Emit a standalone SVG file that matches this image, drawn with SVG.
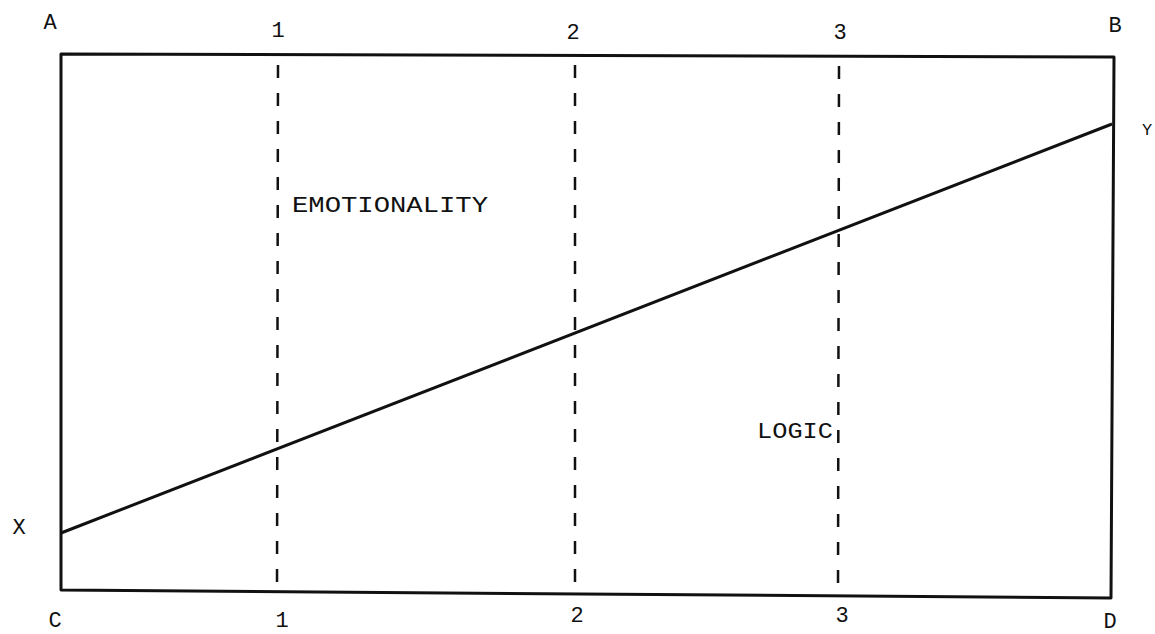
<svg xmlns="http://www.w3.org/2000/svg" width="1155" height="634" viewBox="0 0 1155 634">
<style>
.t{font-family:"Liberation Mono","DejaVu Sans Mono",monospace;font-size:22px;fill:#111;text-anchor:middle}
.frame{fill:none;stroke:#111;stroke-width:3;stroke-linejoin:round}
.dash{stroke:#111;stroke-width:2.5;stroke-dasharray:13 15}
.diag{stroke:#111;stroke-width:3;fill:none}
</style>
<rect width="1155" height="634" fill="#fff"/>
<g id="frame">
<polygon class="frame" points="61,54 1114,57 1111,598 61,590"/>
</g>
<g id="connectors">
<line class="dash" x1="278" y1="65" x2="277" y2="588"/>
<line class="dash" x1="575" y1="65" x2="575" y2="590"/>
<line class="dash" x1="839" y1="66" x2="838" y2="594"/>
<line class="diag" x1="61" y1="533" x2="1112" y2="124"/>
</g>
<g id="corner-labels">
<text class="t" x="50" y="29">A</text>
<text class="t" x="1115" y="32">B</text>
<text class="t" x="55" y="627">C</text>
<text class="t" x="1110" y="628">D</text>
<text class="t" x="19" y="534">X</text>
<text class="t" x="1147" y="135" style="font-size:17px">Y</text>
</g>
<g id="top-ticks">
<text class="t" x="278" y="37">1</text>
<text class="t" x="573" y="39">2</text>
<text class="t" x="840" y="39">3</text>
</g>
<g id="bottom-ticks">
<text class="t" x="282" y="627">1</text>
<text class="t" x="577" y="622">2</text>
<text class="t" x="842" y="622">3</text>
</g>
<g id="emotionality">
<text class="t" x="390" y="212" textLength="196" lengthAdjust="spacingAndGlyphs">EMOTIONALITY</text>
</g>
<g id="logic">
<text class="t" x="795" y="438" textLength="76" lengthAdjust="spacingAndGlyphs">LOGIC</text>
</g>
</svg>
